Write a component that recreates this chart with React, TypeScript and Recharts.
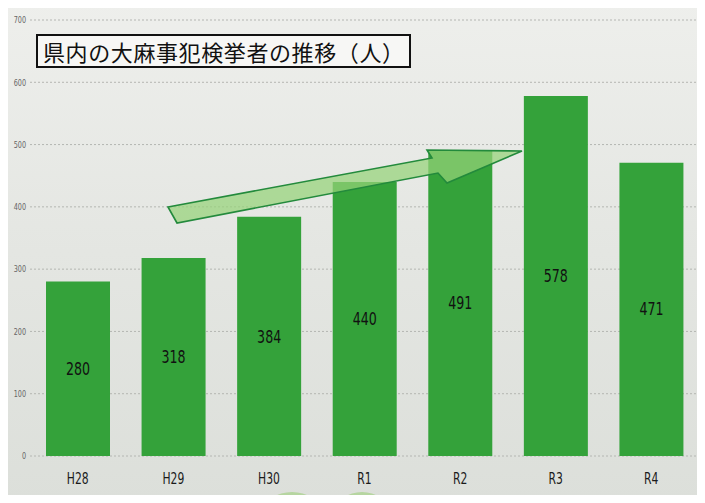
import React from "react";
import { BarChart, Bar, XAxis, YAxis, CartesianGrid, LabelList } from "recharts";

const categories = ["H28", "H29", "H30", "R1", "R2", "R3", "R4"];
const arrests = [280, 318, 384, 440, 491, 578, 471];
const yTicks = [0, 100, 200, 300, 400, 500, 600, 700];
const title = "県内の大麻事犯検挙者の推移（人）";

const data = categories.map((c, i) => ({ name: c, value: arrests[i] }));

const narrow = "'DejaVu Sans Condensed', 'DejaVu Sans', sans-serif";

const NarrowText = ({ x, y, text, size, fill, scale, anchor = "middle", baseline = "central" }: any) => (
  <text
    transform={`translate(${x},${y}) scale(${scale},1)`}
    textAnchor={anchor}
    dominantBaseline={baseline}
    fontFamily={narrow}
    fontSize={size}
    fill={fill}
  >
    {text}
  </text>
);

const BarValueLabel = (props: any) => {
  const { x, y, width, height, value } = props;
  return <NarrowText x={x + width / 2} y={y + height / 2} text={value} size={18} fill="#111" scale={0.78} />;
};

const XTick = (props: any) => {
  const { x, y, payload } = props;
  return <NarrowText x={x} y={y + 7} text={payload.value} size={15} fill="#1a1a1a" scale={0.8} />;
};

const YTick = (props: any) => {
  const { x, y, payload } = props;
  return <NarrowText x={x} y={y} text={payload.value} size={9} fill="#666" scale={0.8} anchor="end" />;
};

export default function App() {
  return (
    <div
      style={{
        position: "relative",
        width: 705,
        height: 503,
        margin: -8,
        overflow: "hidden",
        background: "linear-gradient(180deg, #eeefec 0%, #e4e6e2 50%, #dcdfda 100%)",
      }}
    >
      <svg width={705} height={503} style={{ position: "absolute", left: 0, top: 0 }}>
        <ellipse cx={292} cy={512} rx={28} ry={20} fill="#9ccf7a" opacity={0.6} />
        <ellipse cx={362} cy={512} rx={26} ry={20} fill="#9ccf7a" opacity={0.6} />
      </svg>
      <div style={{ position: "absolute", left: 0, top: 0 }}>
        <BarChart
          width={705}
          height={503}
          data={data}
          margin={{ top: 20, right: 6, left: 0, bottom: 0 }}
        >
          <CartesianGrid vertical={false} stroke="#b4b6b2" strokeDasharray="2 2" />
          <XAxis
            dataKey="name"
            axisLine={false}
            tickLine={false}
            tickSize={0}
            tickMargin={15}
            height={47}
            tick={<XTick />}
            interval={0}
          />
          <YAxis
            width={30}
            domain={[0, 700]}
            ticks={yTicks}
            axisLine={false}
            tickLine={false}
            tickSize={0}
            tickMargin={4}
            tick={<YTick />}
            interval={0}
          />
          <Bar dataKey="value" fill="#34a23a" barSize={64} isAnimationActive={false}>
            <LabelList dataKey="value" content={<BarValueLabel />} />
          </Bar>
        </BarChart>
      </div>
      {/* decorative arrow */}
      <svg width={705} height={503} style={{ position: "absolute", left: 0, top: 0, pointerEvents: "none" }}>
        <polygon
          points="168,207 432,158 427,150 522,151 447,183 438,173 177,223"
          fill="rgba(150,210,120,0.72)"
          stroke="#238a3c"
          strokeWidth={1.6}
          strokeLinejoin="miter"
        />
      </svg>
      {/* title box */}
      <div
        style={{
          position: "absolute",
          left: 36,
          top: 34,
          width: 366,
          height: 30,
          border: "2px solid #111",
          background: "#f7f7f5",
          fontFamily: "'Noto Sans CJK JP', sans-serif",
          fontSize: 22,
          lineHeight: "30px",
          color: "#111",
          paddingLeft: 5,
          letterSpacing: 0.6,
          whiteSpace: "nowrap",
          boxSizing: "content-box",
        }}
      >
        {title}
      </div>
      {/* frame lines */}
      <div style={{ position: "absolute", left: 7, top: 3, width: 698, height: 2, background: "#111", zIndex: 5 }} />
      <div style={{ position: "absolute", left: 6, top: 3, width: 2, height: 500, background: "#111", zIndex: 5 }} />
    </div>
  );
}
